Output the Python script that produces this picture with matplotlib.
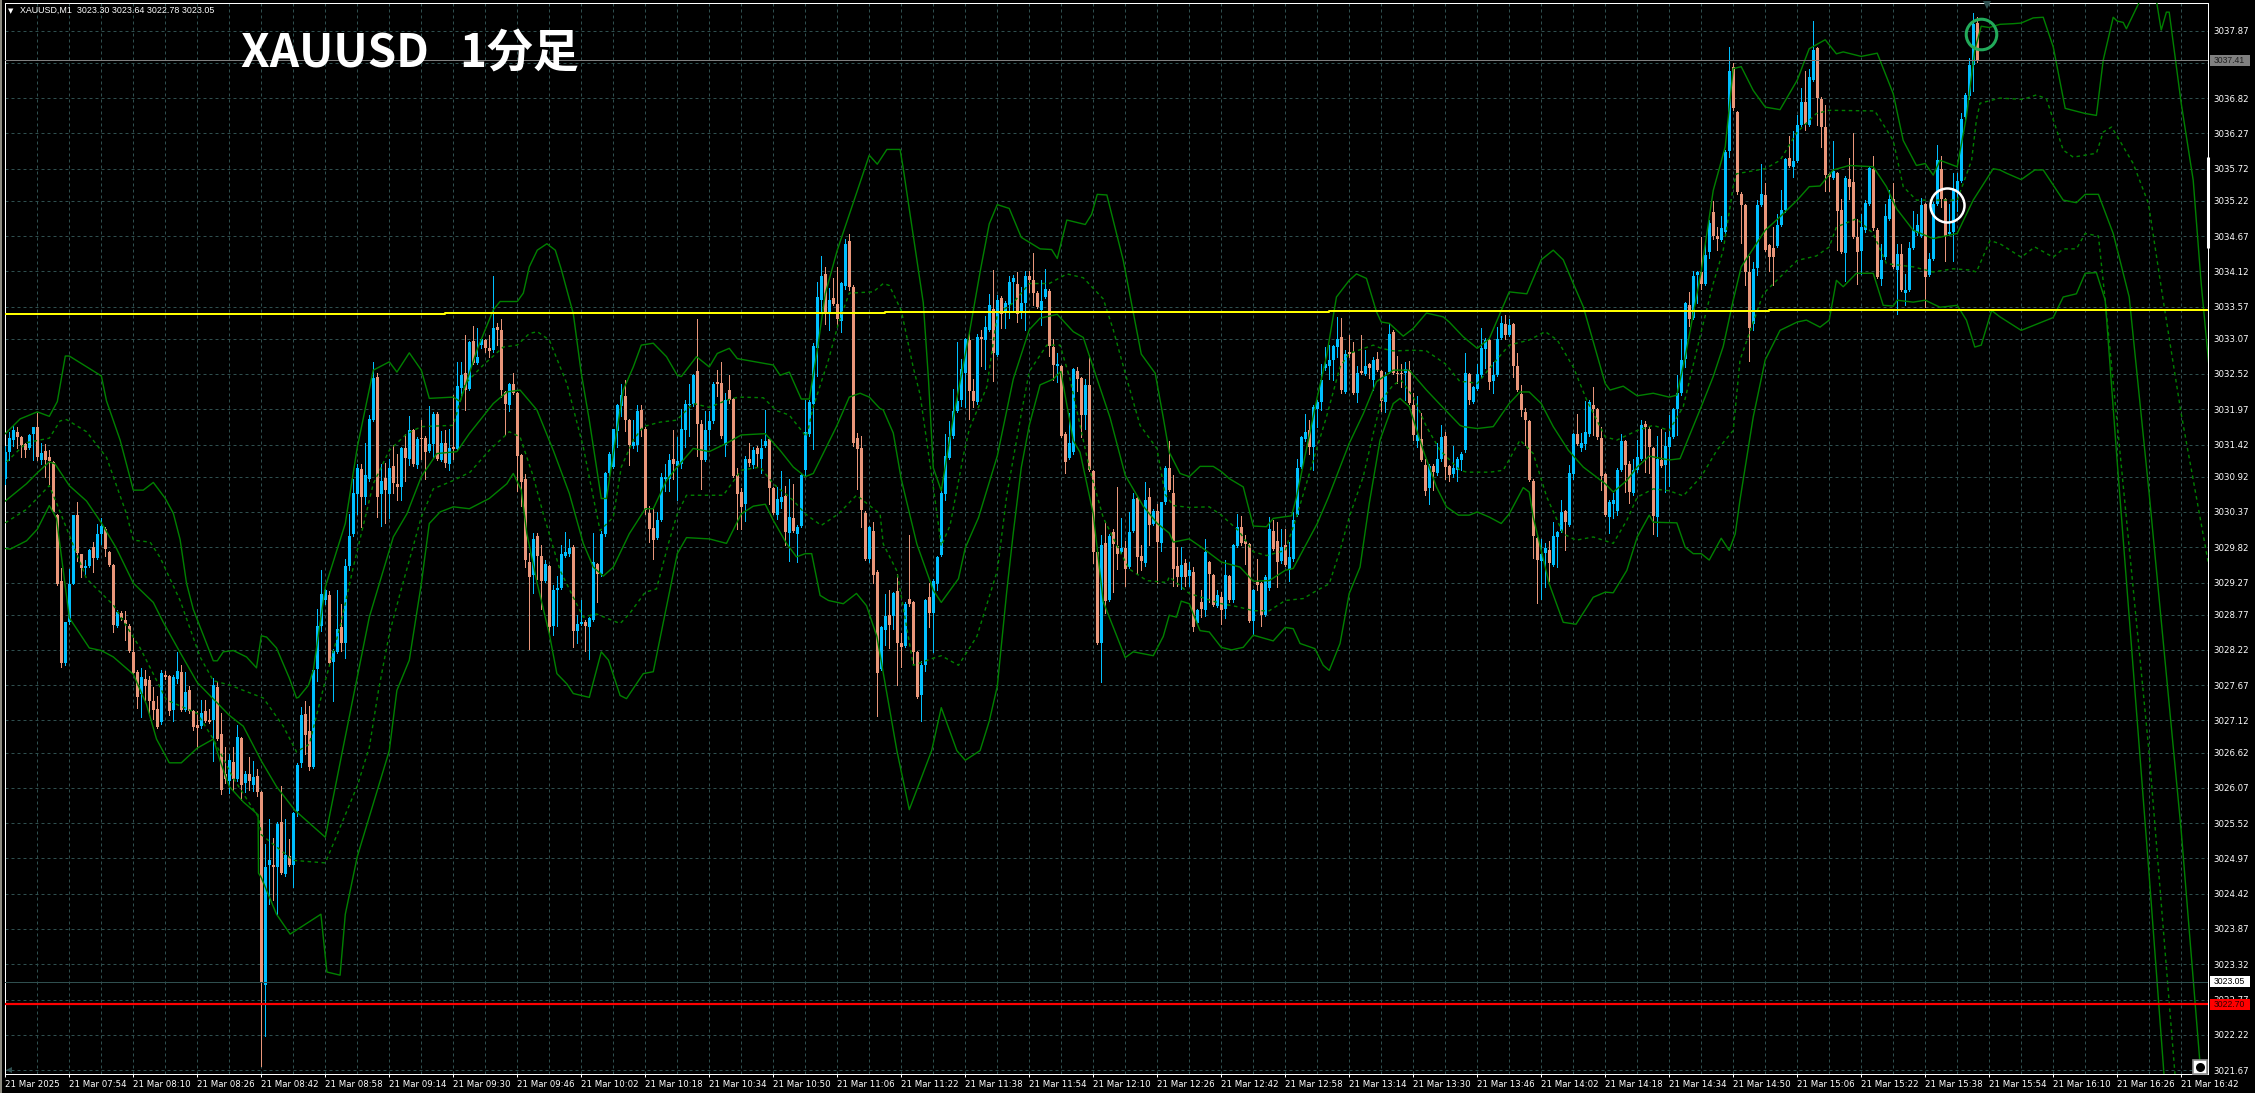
import numpy as np
import matplotlib
matplotlib.use("Agg")
import matplotlib.pyplot as plt
from matplotlib.patches import Rectangle

BASE = 3000.0

# candles, prices minus 3000, one row = 16 bars (one time label)
opens = [
30.89,31.30,31.49,31.62,31.54,31.43,31.37,31.59,31.69,31.18,31.32,31.22,31.15,30.33,29.29,28.01,
28.65,29.25,30.33,29.71,29.50,29.53,29.83,29.65,30.02,30.10,29.75,29.55,28.60,28.80,28.69,28.60,
28.19,27.88,27.53,27.77,27.75,27.42,27.30,27.09,27.83,27.81,27.29,27.77,27.88,27.29,27.60,27.26,
27.05,27.03,27.26,27.12,27.12,27.64,26.91,26.29,26.17,26.48,26.21,26.84,26.15,26.29,26.12,26.25,
26.00,23.00,24.86,24.87,24.83,25.53,24.72,25.01,24.86,25.71,26.45,27.22,26.95,26.40,27.92,28.59,
29.00,29.07,28.03,28.19,28.57,28.32,29.52,30.02,30.65,31.04,30.61,30.88,31.80,32.48,30.65,30.90,
30.65,31.08,30.80,30.76,31.37,31.20,31.64,31.10,31.51,31.53,31.32,31.43,31.90,31.18,31.44,31.11,
31.38,31.35,32.30,32.53,32.29,33.03,32.69,32.97,33.05,32.93,32.89,33.25,33.20,32.24,32.03,32.37,
32.22,31.25,30.88,29.59,29.38,29.99,29.68,29.30,29.52,28.59,29.15,29.19,29.69,29.71,29.83,28.51,
28.63,28.66,28.58,28.69,29.56,29.41,30.02,30.97,31.07,31.63,32.02,32.17,31.80,31.39,31.41,31.96,
31.67,30.35,30.12,29.97,30.25,30.88,30.89,31.19,31.08,31.12,31.64,32.03,32.06,32.56,31.74,31.18,
31.64,31.78,32.39,32.38,31.41,32.27,32.13,30.94,30.68,30.49,31.20,31.10,31.36,31.20,31.40,31.51,
30.74,30.33,30.53,30.62,30.04,30.27,30.03,30.15,31.02,31.58,32.06,32.92,33.68,34.08,33.49,33.71,
33.61,33.35,33.89,34.60,33.88,31.53,31.36,30.36,29.64,30.07,29.43,27.92,28.53,28.77,28.75,29.14,
28.33,28.28,29.02,28.96,28.19,27.52,27.98,29.04,28.80,29.25,29.70,30.65,31.21,31.55,31.95,32.11,
32.53,33.05,32.25,32.08,33.09,33.05,33.21,33.54,32.82,33.70,33.48,33.59,33.96,33.93,33.48,33.62,
34.05,33.99,33.79,33.52,33.72,33.82,32.94,32.65,32.64,31.59,31.21,31.31,32.57,32.46,31.88,32.35,
31.01,29.75,28.33,29.88,29.00,30.06,29.84,29.75,29.81,29.51,30.07,30.58,29.69,29.58,30.61,30.18,
30.39,29.89,30.53,31.06,30.67,29.53,29.36,29.58,29.37,29.44,28.64,28.96,28.84,29.59,29.39,28.91,
29.05,28.85,29.37,28.99,29.84,30.14,29.92,29.87,28.67,29.28,29.26,28.77,29.18,30.07,29.92,29.60,
29.85,29.47,29.63,30.33,31.07,31.50,31.64,31.38,31.97,32.08,32.62,32.64,32.74,32.94,33.09,32.24,
32.87,32.86,32.23,32.57,32.52,32.67,32.42,32.76,32.57,32.08,32.55,33.18,32.54,32.53,32.53,32.58,
32.03,31.48,31.51,31.10,30.74,31.08,30.97,31.19,31.56,31.08,30.96,31.02,31.18,31.33,32.52,32.09,
32.29,32.50,32.91,33.05,32.41,32.51,33.08,33.30,33.13,33.30,32.65,32.21,31.92,31.78,30.86,29.96,
29.60,29.73,29.77,29.55,29.98,30.07,30.38,30.17,30.96,31.59,31.37,31.43,31.58,32.03,31.97,31.52,
30.96,30.29,30.50,30.38,31.03,31.47,31.12,30.66,31.02,31.20,31.74,31.67,31.36,30.29,31.18,31.10,
31.38,31.54,31.98,32.22,32.76,33.59,33.39,34.06,34.11,33.92,34.42,35.04,34.67,34.61,34.73,35.99,
37.30,36.60,35.33,35.15,34.11,33.30,34.17,35.16,35.31,34.53,34.49,34.52,34.84,35.07,35.88,35.74,
35.84,36.40,36.76,36.40,37.10,37.60,36.81,36.37,35.64,35.58,35.65,35.07,34.41,35.56,35.51,34.65,
34.44,34.76,35.17,35.72,34.77,34.00,34.34,34.94,35.25,34.14,34.39,33.79,33.83,34.49,34.71,34.67,
35.17,34.06,34.32,35.17,35.72,35.24,34.70,34.74,35.36,35.53,36.52,36.85,37.33,37.99,
]
highs = [
31.39,31.62,31.72,31.69,31.56,31.45,31.59,31.70,31.91,31.45,31.43,31.34,31.16,30.34,29.50,28.65,
29.48,30.33,30.52,29.72,29.62,29.79,29.90,30.18,30.27,30.14,29.76,29.56,28.84,28.82,28.83,28.62,
28.42,27.90,27.94,27.90,27.82,27.64,27.50,27.91,27.89,27.83,27.83,28.18,27.98,27.88,27.66,27.28,
27.27,27.44,27.44,27.30,27.78,27.72,27.23,26.70,26.59,26.70,27.05,26.86,26.33,26.55,26.49,26.36,
26.02,25.20,25.58,25.29,25.53,26.10,25.58,25.28,25.70,26.45,27.33,27.43,27.34,27.92,28.86,29.46,
29.17,29.14,28.23,29.16,28.93,29.64,30.34,30.89,31.12,31.12,31.44,31.88,32.71,32.53,31.12,31.14,
31.20,31.42,31.28,31.38,31.58,31.86,31.66,31.54,31.81,31.55,32.02,31.93,31.92,31.63,31.64,31.67,
32.19,32.71,32.71,33.13,33.04,33.27,33.23,33.08,33.07,33.13,34.05,33.31,33.37,32.26,32.38,32.53,
32.24,31.27,30.96,29.73,30.04,30.04,29.85,29.62,29.54,29.23,29.37,29.85,30.05,29.95,29.85,28.76,
29.00,28.68,28.73,30.04,29.58,30.07,30.99,31.31,31.67,32.05,32.37,32.43,31.82,31.80,32.03,32.03,
31.69,30.47,30.42,30.37,30.97,31.11,31.28,31.65,31.54,31.97,32.11,32.36,32.52,33.37,31.81,31.94,
31.95,32.39,32.59,32.70,32.22,32.50,32.15,31.05,30.75,31.24,31.45,31.38,31.39,31.50,31.96,31.53,
30.76,30.76,31.01,30.78,30.89,30.81,30.17,30.96,32.11,32.11,33.00,33.96,34.36,34.18,33.86,34.02,
34.18,33.96,34.62,34.70,33.90,31.60,31.56,30.38,30.15,30.22,29.47,28.59,29.09,29.15,29.13,29.40,
28.48,28.96,30.01,28.98,28.21,28.04,29.01,29.27,29.32,29.69,30.76,31.59,31.79,32.29,33.02,32.75,
33.08,33.17,32.44,33.14,33.21,33.42,33.76,34.14,33.75,33.74,33.65,34.05,34.06,34.11,33.87,34.12,
34.12,34.41,33.81,33.99,34.16,33.84,33.07,32.85,32.66,31.61,31.91,32.62,32.63,32.48,32.44,32.81,
31.03,29.77,30.01,30.21,30.02,30.10,30.76,30.27,29.92,30.37,30.67,30.60,29.85,30.83,30.75,30.41,
30.49,30.52,31.09,31.47,30.94,29.82,29.82,29.64,29.59,29.51,28.86,29.15,29.95,29.61,29.41,29.15,
29.13,29.62,29.39,29.87,30.34,30.31,30.01,29.89,29.17,29.64,29.28,29.38,30.29,30.25,30.21,30.10,
30.10,29.90,30.37,31.19,31.56,31.89,31.80,32.03,32.11,32.68,32.94,32.97,32.97,33.41,33.40,32.90,
33.13,33.02,32.65,33.13,32.89,32.69,32.79,32.86,32.59,32.55,33.30,33.20,32.80,32.68,32.71,32.72,
32.22,32.17,31.91,31.19,31.11,31.11,31.44,31.72,31.62,31.10,31.39,31.23,31.30,32.84,32.54,32.33,
32.68,33.23,33.08,33.07,32.71,33.25,33.42,33.44,33.37,33.32,32.85,32.35,31.99,31.80,30.88,29.98,
29.95,29.89,29.91,30.22,30.08,30.55,30.40,31.10,31.60,31.89,31.60,32.10,32.12,32.31,31.99,31.70,
30.98,30.55,30.66,31.05,31.58,31.49,31.17,31.19,31.49,31.81,31.78,31.69,31.38,31.56,31.66,31.61,
31.88,31.99,32.50,33.06,33.64,33.80,34.12,34.13,34.65,34.56,34.92,35.21,34.81,34.99,36.01,37.62,
37.37,36.62,35.35,35.17,34.36,34.27,35.23,35.80,35.50,34.55,34.81,35.01,35.38,35.89,36.23,36.30,
36.55,36.97,37.25,37.28,38.02,37.62,36.83,36.71,35.66,36.15,35.67,35.24,35.60,35.88,36.27,34.94,
35.02,35.23,35.75,35.91,34.79,34.55,35.17,35.38,35.49,34.55,34.54,34.08,34.58,35.06,35.01,35.26,
35.19,34.40,35.20,36.09,35.91,35.26,35.17,35.65,35.65,36.58,36.90,37.45,38.14,38.09,
]
lows = [
30.81,31.18,31.39,31.37,31.22,31.22,31.35,31.18,31.18,31.12,30.91,30.81,30.37,29.23,27.96,27.99,
28.63,29.25,29.61,29.36,29.41,29.51,29.43,29.63,29.87,29.68,29.52,28.50,28.58,28.68,28.38,28.18,
27.84,27.32,27.18,27.44,27.20,27.15,27.00,27.07,27.77,27.20,27.11,27.70,27.27,27.27,27.24,26.97,
26.69,27.01,27.09,27.08,26.49,26.81,25.97,26.15,25.99,26.03,26.17,25.88,26.00,26.03,26.02,25.95,
21.73,22.20,24.26,24.32,24.10,24.72,24.70,24.85,24.52,25.63,26.40,26.60,26.35,26.38,27.74,28.52,
28.93,28.00,27.43,28.17,28.21,28.09,29.46,30.00,30.34,30.14,30.50,30.86,31.78,30.29,30.15,30.19,
30.28,30.66,30.56,30.56,30.86,31.10,31.09,31.05,31.20,30.89,31.30,31.22,31.18,31.16,31.07,31.02,
31.20,31.33,32.16,31.96,32.27,32.67,32.67,32.92,32.87,32.79,32.87,32.97,32.16,31.57,31.95,32.21,
30.70,30.46,29.51,28.23,29.10,29.33,28.86,29.28,28.47,28.45,28.59,29.17,29.67,29.69,28.26,28.33,
28.61,28.21,28.08,28.67,28.97,29.37,30.00,30.95,31.05,31.38,31.86,31.63,31.10,31.37,31.32,31.55,
30.34,29.90,29.64,29.95,30.23,30.70,30.69,30.89,30.55,31.05,31.38,31.55,32.02,31.24,30.73,31.16,
31.41,31.76,32.18,31.53,31.24,32.07,30.91,30.11,30.11,30.23,31.09,31.05,31.07,30.97,31.38,30.50,
30.34,30.26,30.43,29.85,29.60,30.06,29.59,30.13,30.93,31.56,31.35,32.49,33.50,33.30,33.20,33.59,
33.27,33.18,33.85,33.83,31.40,30.73,30.14,29.62,29.59,29.26,27.19,27.90,28.29,28.25,28.55,27.68,
27.96,28.26,28.91,28.00,27.47,27.11,27.89,28.58,28.18,29.15,29.68,30.55,31.19,31.53,31.93,32.02,
32.00,31.82,32.01,32.06,32.65,32.60,33.19,32.41,32.80,33.23,33.24,33.40,33.52,33.33,33.40,33.20,
33.80,33.60,33.55,33.29,33.70,32.80,32.42,32.39,31.54,30.97,31.19,31.28,32.25,31.54,31.67,31.01,
29.58,28.31,27.72,28.79,28.98,29.12,29.48,29.73,29.22,29.49,30.05,29.40,29.46,29.52,29.86,30.16,
29.27,29.76,30.50,30.69,29.22,29.21,29.17,29.21,29.22,28.52,28.62,28.73,28.75,28.96,28.90,28.89,
28.62,28.71,28.97,28.97,29.82,29.86,29.56,28.65,28.47,29.15,28.59,28.75,29.16,29.78,29.20,29.58,
29.52,29.30,29.61,30.31,31.05,31.48,31.27,31.03,31.70,31.96,32.58,32.44,32.42,32.78,32.22,32.22,
32.79,32.21,32.09,32.52,32.50,32.45,32.27,32.56,31.95,31.92,32.53,32.52,32.38,32.31,32.11,32.05,
31.49,31.38,31.16,30.63,30.50,30.71,30.95,31.17,30.89,30.86,30.91,30.86,31.02,31.31,32.05,32.07,
32.27,32.48,32.62,32.29,32.23,32.49,33.06,33.07,33.11,32.48,32.25,31.87,31.42,30.85,29.65,28.95,
29.01,29.20,29.30,29.53,29.51,30.05,29.77,30.15,30.88,31.41,31.32,31.35,31.56,31.57,31.50,30.71,
30.30,30.04,30.27,30.32,31.01,30.68,30.51,30.64,31.00,31.18,30.99,30.97,30.02,29.99,31.07,30.68,
30.77,31.52,31.57,32.20,32.63,33.27,33.37,33.62,33.85,33.90,34.33,34.63,34.46,34.59,34.71,35.90,
36.64,35.33,34.56,33.90,32.73,33.21,34.06,35.14,34.43,34.13,33.90,34.50,34.82,35.05,35.74,35.59,
35.82,36.38,36.32,36.38,37.08,36.40,36.06,35.37,35.37,35.56,34.46,34.40,33.97,35.24,34.64,33.93,
34.08,34.74,35.15,34.77,34.01,33.90,34.32,34.92,34.17,33.46,33.81,33.59,33.81,34.47,34.69,34.65,
33.57,34.04,34.30,35.15,35.12,34.28,34.68,34.28,35.06,35.51,36.50,36.80,36.93,37.39,
]
closes = [
31.30,31.52,31.64,31.54,31.42,31.34,31.57,31.69,31.22,31.29,31.18,31.16,30.37,29.25,28.01,28.65,
29.25,30.33,29.73,29.50,29.53,29.77,29.65,30.02,30.15,29.80,29.54,28.61,28.81,28.72,28.63,28.20,
27.86,27.49,27.80,27.65,27.42,27.29,27.02,27.86,27.79,27.26,27.80,27.89,27.29,27.57,27.26,27.02,
27.01,27.23,27.11,27.10,27.67,26.83,26.04,26.21,26.51,26.21,26.86,26.12,26.28,26.18,26.24,26.00,
23.05,24.84,24.94,24.83,25.51,24.74,25.02,24.87,25.68,26.43,27.21,26.90,26.40,27.90,28.59,29.09,
29.15,28.02,28.21,28.54,28.32,29.52,29.99,30.67,31.05,30.61,30.94,31.82,32.45,30.61,30.86,30.71,
31.05,30.82,30.76,31.36,31.21,31.64,31.11,31.50,31.50,31.31,31.43,31.89,31.20,31.44,31.13,31.37,
31.35,32.33,32.51,32.27,33.02,32.69,32.78,33.06,32.92,32.88,33.23,33.20,32.27,32.05,32.37,32.23,
31.24,30.84,29.62,29.36,29.95,29.69,29.30,29.56,28.58,29.15,29.19,29.72,29.75,29.81,28.52,28.62,
28.65,28.59,28.71,29.59,29.41,30.02,30.98,31.27,31.66,32.03,32.19,31.80,31.41,31.46,31.94,31.67,
30.40,30.11,29.93,30.24,30.91,30.92,31.18,31.11,31.16,31.67,32.06,32.06,32.50,31.74,31.18,31.64,
31.78,32.37,32.36,31.55,32.11,32.12,30.93,30.65,30.45,31.19,31.14,31.34,31.27,31.36,31.48,30.74,
30.36,30.57,30.60,30.05,30.29,30.08,30.14,30.94,31.61,32.09,32.95,33.72,34.05,33.49,33.68,33.61,
33.38,33.94,34.55,33.87,31.45,31.35,30.40,29.64,30.13,29.38,27.86,28.57,28.75,28.61,29.11,28.33,
28.27,28.94,28.93,28.18,27.49,27.98,28.99,28.79,29.30,29.67,30.67,31.24,31.54,31.95,32.10,32.60,
33.06,32.25,32.10,33.09,33.07,33.26,33.60,32.84,33.68,33.45,33.63,33.96,34.01,33.46,33.63,34.04,
33.98,33.79,33.57,33.66,33.84,32.96,32.66,32.68,31.56,31.15,31.44,32.60,32.44,31.88,32.35,31.03,
29.75,28.33,29.85,28.98,30.00,29.87,29.72,29.81,29.48,30.06,30.57,29.67,29.60,30.55,30.16,30.39,
29.90,30.52,31.05,30.71,29.48,29.35,29.55,29.35,29.46,28.58,28.84,28.85,29.75,29.40,28.92,29.07,
28.84,29.38,28.99,29.85,30.14,29.88,29.87,28.67,29.15,29.23,28.77,29.36,30.10,29.80,29.59,29.82,
29.54,29.66,30.24,31.06,31.54,31.61,31.38,32.00,32.09,32.42,32.67,32.74,32.95,33.06,32.27,32.83,
32.83,32.23,32.53,32.54,32.65,32.62,32.74,32.58,32.10,32.49,33.15,32.54,32.52,32.52,32.60,32.07,
31.57,31.57,31.18,30.70,31.09,30.99,31.19,31.54,31.07,30.94,31.06,31.19,31.28,32.53,32.11,32.31,
32.52,32.92,33.05,32.39,32.50,33.06,33.32,33.12,33.28,32.64,32.27,31.96,31.80,30.87,29.99,29.62,
29.72,29.81,29.57,30.00,30.05,30.37,30.21,30.97,31.58,31.43,31.45,31.61,32.09,31.98,31.54,30.93,
30.32,30.53,30.56,31.02,31.47,31.10,30.68,31.03,31.22,31.72,31.70,31.38,30.31,31.19,31.09,31.39,
31.54,31.97,32.23,32.74,33.62,33.38,34.05,34.11,33.92,34.37,34.87,34.67,34.62,34.79,35.98,37.25,
36.66,35.35,35.16,34.11,33.23,34.16,35.15,35.33,34.45,34.34,34.34,34.84,35.07,35.87,35.76,35.84,
36.40,36.76,36.41,37.15,37.57,36.82,36.37,35.62,35.59,35.68,35.06,34.42,35.58,35.43,34.66,34.42,
34.81,35.18,35.73,34.79,34.03,34.30,34.99,35.24,34.19,34.39,33.83,33.83,34.49,34.76,34.84,35.15,
34.03,34.32,35.17,35.85,35.24,34.67,34.74,35.38,35.53,36.49,36.87,37.33,37.97,37.41,
]

# bollinger lines, bar number and price-3000 at the bends of each curve
upper_bars = [
0,3.7,8,11,13,15,16,24,25.3,28.7,32,34.5,37,40,42,43.7,45.3,47,49.5,52,53,54.5,57,60.3,62.8,64,65.3,67.8,71,72.8,
73.3,75.8,77,80,85,88,92,96,97.9,101,104,106,112,113.7,117.9,122,123.7,128,129.5,131,133,135.4,137.5,139,142,144,
146,149,150.3,152,154.5,157,159,162,165.3,168,169,172.8,176,178,181,183,192,193.7,196,199,201,203,205,208,
216,218,220.4,223.7,224.5,229.5,230.8,232,234,237,241,243.7,246,248,251,254,258.7,261.6,263,265.4,270,271.6,273,275.4,279.5,284,287.5,289.5,291,
293.7,296,298.7,302,304,306,309.5,312,315.3,317,321.6,322.8,328,330.3,332.8,336,337.8,340.3,342.8,344,346,349.5,352,355.3,359.5,
361,364.5,368,371,376,380.4,384,387,389.5,392,394.5,400,401.2,404.5,408,412,416,417.9,420,424,
427,430,432,434,437,440,443.7,448,451,455,457.8,459.5,464,468,472,474.5,477.8,480,482,483.7,488,490.3,492.4,494,
496,498.7,502,504,507,509.5,512,515,520,522.8,524.5,527,528,529.5,530.3,533.7,535.8,537.8,539,540.3,541,544,547,549,551,
]
upper_vals = [
31.59,31.82,31.93,31.86,32.09,32.80,32.80,32.49,32.10,31.49,30.71,30.71,30.83,30.58,30.35,29.94,29.26,28.85,28.45,28.05,28.05,28.19,28.21,28.11,27.94,28.44,28.42,28.25,27.78,27.47,
27.48,27.67,27.90,29.20,30.19,31.38,32.58,32.71,32.55,32.85,32.58,32.14,32.16,32.09,32.89,33.52,33.65,33.65,33.78,34.19,34.45,34.55,34.45,34.15,33.46,32.53,
31.80,30.58,30.58,31.28,32.27,32.63,32.97,33.00,32.79,32.50,32.48,32.79,32.63,32.84,32.92,32.76,32.66,32.50,32.55,32.13,32.13,32.89,33.77,34.45,
35.93,35.79,36.02,36.02,35.72,33.63,32.44,31.06,30.70,31.84,33.15,34.11,34.86,35.16,35.10,34.65,34.47,34.46,34.32,34.92,34.85,35.01,35.32,35.31,34.29,32.83,32.53,31.84,31.30,
30.97,30.92,31.08,31.08,31.00,30.89,30.76,30.15,30.14,30.27,30.31,30.60,32.16,32.79,33.72,33.98,34.08,34.01,33.49,33.33,33.31,33.11,33.23,33.47,33.41,
33.33,33.10,32.92,33.07,33.80,33.77,34.30,34.45,34.30,33.93,33.57,32.37,32.27,32.33,32.18,32.22,32.16,32.19,32.79,34.12,
35.38,36.06,37.28,37.31,36.94,36.68,36.64,37.10,37.59,37.73,37.51,37.54,37.47,37.52,36.89,36.16,35.77,35.80,35.62,35.85,35.75,36.53,37.57,37.94,
37.92,37.97,37.98,37.99,38.07,38.08,37.62,36.66,36.58,36.55,37.41,38.08,38.02,38.00,37.90,38.34,38.50,38.34,37.88,38.16,38.16,36.74,35.54,33.93,32.60,
]
upper_dot_bars = [
0.3,5.3,11,13.7,15.3,20.3,25.3,30.3,32,36.2,38.7,43.7,48.7,52,56.2,60.3,64.5,69.5,72.8,
76,80,83.7,87,92,96,100.4,104,112,115,119.5,124.5,128,131,133,136,140.4,144.5,
147,148.7,152,154,157,159.5,163.7,167.8,172,176,180.3,183.3,189.5,192.8,196,200.3,202,205.8,208.3,211,217,
219.5,221,224,227,228.7,232,234,236.2,239.5,241,245.4,248,252,256,261,265.4,269.5,274.5,277,280.4,283.7,287.9,
290,292,296,301,304,308.3,312,315.3,320,322.8,328,330.3,333.7,336,342,344,347,352,355.3,360,363.7,
365.4,368,372,376,381,385,388,392,395.4,400,402.9,408,412,416,419.5,424,427,429.5,
432,432.8,440,443.7,448,452.8,456,467.4,472,474.5,477.8,482,488,491.6,492.8,493.7,498.7,504.5,507.8,510.3,
514.5,517,522.8,524.5,526.6,532,535.8,539.5,544,551,
]
upper_dot_vals = [
31.15,31.45,31.52,31.79,31.81,31.62,31.22,30.34,29.93,29.90,29.66,28.99,28.11,27.74,27.67,27.57,27.47,27.03,26.63,
26.75,27.74,28.58,29.51,30.81,31.33,31.59,31.70,31.72,32.37,32.66,32.94,32.97,33.15,33.18,33.05,32.37,31.38,
30.60,30.08,30.29,31.07,31.49,31.70,31.77,31.80,32.06,32.00,32.11,32.16,32.15,31.95,31.88,31.54,32.01,32.74,33.31,33.78,33.80,
33.93,33.90,33.51,32.62,32.20,30.76,29.84,30.16,31.24,31.66,32.32,33.45,33.63,33.93,33.93,34.08,34.02,33.69,33.21,32.44,31.72,31.36,
30.64,30.47,30.44,30.45,30.32,30.08,29.75,29.69,29.77,30.29,31.38,31.85,32.63,32.84,32.97,32.92,32.88,32.89,32.88,32.68,32.40,
32.40,32.37,32.68,32.97,33.05,33.18,33.05,32.63,32.11,31.54,31.49,31.64,31.72,31.64,32.01,33.18,33.93,34.45,
35.44,35.64,35.72,35.85,36.29,36.58,36.63,36.62,36.16,35.44,35.23,35.23,35.23,35.85,36.48,36.74,36.82,36.80,36.87,36.81,
36.01,35.90,35.96,36.29,36.37,35.80,35.18,33.67,31.90,29.50,
]
mid_bars = [
0,5.3,8,11,12.4,16,20.3,24,27.8,32,37,39.5,43.7,48,56,59.5,64,67.8,72.4,
80,84.3,88,91,96,97,100.4,104,107.9,112.9,116,122,125.4,128.7,132.9,137,141,144.5,
147,149.5,152,156,160,162,165.3,168,172,176,180.3,184,190,193.7,197,200,202,207.8,211,213.7,216,218.7,
219.5,222,224,227.9,232,234,238.3,240,243.3,248,252,256,258.7,263,267,269.5,272,276.2,280,284.5,288,291,
292,296,299.5,304,308.7,312,316,320,322,328,330.8,333.7,336,339.5,342.8,347,351,355.3,360,363.7,
364.5,368,372,376,378.7,381,384,387,390.8,394.5,400,402,405.4,408,411,416,418.7,424,
427,429.5,432,434,440,443.7,448,451,453.7,457,461,467,470.3,472.8,477,482,488,492,497,498.7,
500.3,504,507.4,509.5,514.5,517.8,520,523.3,527,531,536,544,551,
]
mid_vals = [
30.54,30.81,30.98,31.15,31.12,30.78,30.54,30.20,29.80,29.26,28.96,28.65,28.18,27.71,27.20,27.03,26.49,26.09,25.72,
25.30,26.65,27.80,28.73,29.77,29.98,30.34,30.92,31.28,31.31,31.59,32.06,32.24,32.27,31.96,31.33,30.66,29.88,
29.51,29.37,29.51,30.03,30.42,30.42,30.86,31.07,31.36,31.31,31.44,31.57,31.59,31.33,31.07,30.92,30.97,31.70,32.16,32.22,32.16,31.98,
31.96,31.60,30.88,29.87,29.15,28.96,29.33,29.81,30.28,31.24,32.44,33.21,33.39,33.45,33.18,33.09,32.62,31.84,30.94,30.46,30.19,30.04,
29.90,29.95,29.80,29.59,29.51,29.29,29.30,29.46,29.49,30.19,30.60,31.07,31.44,31.90,32.40,32.58,32.58,32.27,31.96,31.72,
31.70,31.67,31.70,32.06,32.24,32.24,32.06,31.70,31.33,31.07,30.81,30.68,30.86,31.07,31.24,31.18,31.20,32.01,
32.48,32.95,33.67,34.19,34.76,34.97,35.23,35.44,35.45,35.70,35.77,35.75,35.44,35.10,34.76,34.63,34.71,35.23,35.72,35.70,
35.65,35.55,35.70,35.70,35.23,35.19,35.32,35.32,34.71,33.72,30.65,25.40,20.00,
]
lower_dot_bars = [
0,5.3,11,12.8,20.3,27,33.7,40.3,48,52,57,63.3,64,72,
80,88,91,93.3,96,98.7,104,107,112,116.2,121,126,128.7,132,134.5,138.7,142,144.5,
147.8,153.7,156,160,162.8,165.8,168,170.3,179.5,184,188.7,192,197,200,204,208.3,212.8,218.7,
219.5,222.9,227,231,234,238.3,242.9,248,250.4,254,256,260.4,263.7,266.2,271,274.5,278.7,281,285.4,290.4,
291,296,301,304,308.3,312,316,320,324.5,328,331,333.7,336,339.5,342,344,347,349,352,355.3,358.7,363.7,
365.4,371.2,374.5,378.7,382,385.4,389.5,392.7,397,402,405.4,408,412,416,419.5,424,427.9,
432,433.7,439.5,443.7,448,452.8,456,457.8,462.8,467,470.3,477,482,487,491.2,492.8,496.2,498.7,
504,507.4,512,514.5,517.8,520,523.3,525,528,536,544,551,
]
lower_dot_vals = [
30.20,30.41,30.78,30.51,29.33,28.92,28.25,27.44,27.23,26.83,26.22,25.61,25.34,24.94,
24.90,26.10,26.70,27.59,28.47,29.10,30.29,30.73,30.86,30.99,31.33,31.62,31.54,30.92,30.34,29.46,29.04,28.73,
28.78,28.63,28.78,29.12,29.17,29.88,30.34,30.63,30.63,31.02,31.07,30.81,30.55,30.34,30.16,30.34,30.63,30.34,
29.87,29.45,27.98,28.07,28.13,27.98,28.43,29.45,30.64,31.90,32.56,32.97,32.97,32.44,31.06,30.28,29.75,29.48,29.30,29.27,
29.36,29.10,29.00,28.94,28.89,28.83,28.83,28.99,29.02,29.15,29.25,29.77,30.29,30.92,31.59,32.11,32.35,32.42,32.16,31.70,31.33,31.02,
30.99,30.99,31.02,31.49,31.28,30.60,30.03,29.93,29.98,29.88,30.24,30.60,30.73,30.70,30.62,30.92,31.33,
31.64,32.74,33.77,34.03,34.29,34.36,34.50,34.81,34.94,34.71,34.24,34.19,34.11,34.16,34.14,34.11,34.60,34.55,
34.34,34.50,34.34,34.47,34.47,34.71,34.67,33.67,31.75,26.60,20.40,17.00,
]
lower_bars = [
0,1.2,5.3,8,11,12.8,16,21,24,27,32,35.3,37.8,41,44,48,52,53.7,56,59.5,63.2,63.3,64,67.8,71.2,73.7,
78.9,80.4,83.7,85,88,96,97.9,101,104,106,108.7,112,116,121,125.4,127,129,130.4,133,136,137.9,140.4,142,146,
149,150.8,153.7,155.3,159.5,162,165.8,168,170.3,176,180.3,184,187,190,192,195.3,197.8,200,201.6,203.7,205.8,209.5,212.8,215.3,217.9,
222.9,226,231.6,234,237.9,240,243.7,246,248,250.4,252,254,256,258.7,262,263.9,267,268.7,272,274.5,280,282,287,289.5,
291,292.8,294,296,297,298.7,301,304,306.6,309.5,312,317,320,322,323.7,327.4,329.5,331,333.7,336,338.7,341,343.7,347,348.7,351,354.5,357.8,360.3,363.3,
366,368,371,374,376,379.5,381,382,384,386,389.5,392.7,397,400,402,405.4,408,411,412,417.9,420,422,424,426,429,431,432.5,
433.7,437,440,443.7,448,450.3,453.7,456,457.8,459.5,462.8,467,469.5,472,473,477,480,483.7,488,490.3,492.4,494,496.6,498.7,
504,512,514.5,517.8,520,522.8,525,528,536,544,551,
]
lower_vals = [
29.80,29.79,29.92,30.10,30.47,30.27,28.72,28.25,28.21,28.11,27.84,27.37,26.83,26.46,26.46,26.69,26.83,26.49,26.09,25.85,25.65,24.74,24.67,24.10,23.79,23.89,
24.10,23.20,23.15,24.10,25.00,26.65,27.59,28.06,29.25,30.19,30.37,30.45,30.42,30.58,30.81,30.97,30.71,30.03,29.25,28.47,27.85,27.69,27.54,27.48,
28.19,28.06,27.51,27.46,27.85,27.88,29.04,29.72,29.97,29.95,29.88,30.34,30.46,30.49,30.24,29.88,29.67,29.72,29.72,29.07,28.99,28.94,29.10,28.91,28.43,
26.65,25.73,26.65,27.32,26.65,26.50,26.65,27.11,27.65,29.15,30.04,31.06,31.72,32.35,32.44,32.56,31.48,31.30,30.34,28.97,28.10,28.19,28.13,28.43,
28.76,28.73,28.98,28.94,28.78,28.52,28.50,28.26,28.22,28.26,28.45,28.36,28.57,28.55,28.32,28.24,27.98,27.90,28.32,29.10,29.51,30.50,31.49,32.06,32.14,32.01,31.33,30.76,30.45,30.32,
30.32,30.37,30.29,30.19,30.34,30.75,30.68,30.29,29.77,29.25,28.65,28.62,29.04,29.12,29.11,29.46,29.98,30.32,30.21,30.20,29.82,29.72,29.72,29.62,29.96,29.77,30.03,
30.56,31.85,32.74,33.20,33.33,33.36,33.25,33.36,33.98,33.88,34.09,34.09,33.59,33.58,33.67,33.64,33.67,33.56,33.59,33.36,32.94,32.97,33.51,33.41,
33.20,33.40,33.72,33.77,34.09,34.10,33.67,31.15,24.70,18.00,14.00,
]

y_labels = ["3037.87","3037.37","3036.82","3036.27","3035.72","3035.22","3034.67","3034.12",
            "3033.57","3033.07","3032.52","3031.97","3031.42","3030.92","3030.37","3029.82",
            "3029.27","3028.77","3028.22","3027.67","3027.12","3026.62","3026.07","3025.52",
            "3024.97","3024.42","3023.87","3023.32","3022.77","3022.22","3021.67"]
x_labels = ["21 Mar 2025","21 Mar 07:54","21 Mar 08:10","21 Mar 08:26","21 Mar 08:42","21 Mar 08:58",
            "21 Mar 09:14","21 Mar 09:30","21 Mar 09:46","21 Mar 10:02","21 Mar 10:18","21 Mar 10:34",
            "21 Mar 10:50","21 Mar 11:06","21 Mar 11:22","21 Mar 11:38","21 Mar 11:54","21 Mar 12:10",
            "21 Mar 12:26","21 Mar 12:42","21 Mar 12:58","21 Mar 13:14","21 Mar 13:30","21 Mar 13:46",
            "21 Mar 14:02","21 Mar 14:18","21 Mar 14:34","21 Mar 14:50","21 Mar 15:06","21 Mar 15:22",
            "21 Mar 15:38","21 Mar 15:54","21 Mar 16:10","21 Mar 16:26","21 Mar 16:42"]

# horizontal levels
level_bid = 3023.05
level_red = 3022.70
level_gray = 3037.41
# the yellow trend line moves one pixel up in steps
yellow_bars = [0, 110, 220, 331, 441, 551]
yellow_vals = [3033.46, 3033.47, 3033.49, 3033.50, 3033.52, 3033.52]

BLUE = "#00bfff"
SALMON = "#e9967a"
GREEN = "#008000"
SLATE = "#2f4f4f"
PX = 0.72  # one pixel in points at dpi 100
FS = 6.2

W, H = 2255, 1093
L_PX, R_PX, T_PX, B_PX = 5.0, 2208.0, 2.5, 1074.0

o = BASE + np.array(opens)
h = BASE + np.array(highs)
l = BASE + np.array(lows)
c = BASE + np.array(closes)
bars = np.arange(len(c))

fig = plt.figure(figsize=(W / 100, H / 100), dpi=100, facecolor="black")
ax = fig.add_axes([L_PX / W, 1 - B_PX / H, (R_PX - L_PX) / W, (B_PX - T_PX) / H], facecolor="black")
ax.set_xlim(-0.08, 550.7)
ax.set_ylim(3021.61, 3038.31)

plt.rcParams["font.family"] = ["Liberation Sans", "DejaVu Sans"]

# grid
ax.set_axisbelow(True)
ax.set_yticks([float(v) for v in y_labels])
ax.set_yticklabels(y_labels)
ax.set_xticks(np.arange(0, 552, 16))
ax.set_xticklabels(x_labels, ha="left")
ax.set_xticks(np.arange(0, 552, 8), minor=True)
ax.grid(True, which="both", color=SLATE, linewidth=PX, linestyle=(0, (3, 3)))
ax.yaxis.tick_right()
ax.tick_params(axis="y", length=0, pad=4.2, labelsize=FS, labelcolor="white")
ax.tick_params(axis="x", which="major", length=3 * PX, width=PX, color="white", pad=2.2,
               labelsize=FS, labelcolor="white")
ax.tick_params(axis="x", which="minor", length=0)
for s in ax.spines.values():
    s.set_color("white")
    s.set_linewidth(PX)

# candles
up = c >= o
wick_colors = np.where(up, BLUE, SALMON)
ax.vlines(bars, l, h, colors=wick_colors, linewidth=PX, zorder=3, antialiased=False)
body_bottom = np.minimum(o, c)
body_h = np.maximum(np.abs(c - o), 0.02)
ax.bar(bars, body_h, bottom=body_bottom, width=0.75, color=wick_colors, linewidth=0, zorder=3,
       antialiased=False)

# bands
for xs, vals, style in [(upper_bars, upper_vals, "-"), (mid_bars, mid_vals, "-"), (lower_bars, lower_vals, "-"),
                        (upper_dot_bars, upper_dot_vals, (0, (2.5, 2.5))),
                        (lower_dot_bars, lower_dot_vals, (0, (2.5, 2.5)))]:
    ax.plot(xs, BASE + np.array(vals), color=GREEN, linewidth=1.4 * PX, linestyle=style, zorder=4)

# levels
ax.axhline(level_gray, color="#808080", linewidth=PX, zorder=5)
ax.axhline(level_bid, color=SLATE, linewidth=PX, zorder=5)
ax.axhline(level_red, color="#ff0000", linewidth=2.2 * PX, zorder=5)
ax.step(yellow_bars, yellow_vals, where="post", color="#ffff00", linewidth=2 * PX, zorder=5)

# circles put by hand on the chart
ax.plot([494], [3037.82], "o", ms=22, mfc="none", mec="#22aa5a", mew=2.2, zorder=6)
ax.plot([485.4], [3035.15], "o", ms=24.5, mfc="none", mec="white", mew=1.8, zorder=6)

# right scale: price tags and the white scale marker
ytrans = ax.get_yaxis_transform()
for val, txt, bg, fg in [(level_gray, "3037.41", "#808080", "#202020"),
                         (level_bid, "3023.05", "white", "black"),
                         (level_red, "3022.70", "#ff0000", "#300000")]:
    ax.add_patch(Rectangle((1.0009, val - 0.085), 0.01816, 0.17, transform=ytrans, facecolor=bg, edgecolor="none",
                           clip_on=False, zorder=9))
    ax.text(1.00272, val, txt, transform=ytrans, ha="left", va="center", fontsize=FS, color=fg, zorder=10)
ax.plot([1, 1], [3034.48, 3035.90], transform=ytrans, color="white", linewidth=2.2, clip_on=False, zorder=9,
        solid_capstyle="butt")

# little chart markers
ax.plot([495.4], [3038.27], "v", ms=6, color=SLATE, mew=0, clip_on=False, zorder=7)
ax.plot([1.0], [3021.68], "<", ms=4, color=SLATE, mew=0, clip_on=False, zorder=7)
ax.plot([548.8], [3021.72], "s", ms=10.5, mfc="white", mec="#8c8c8c", mew=1.2, clip_on=False, zorder=9)
ax.plot([548.8], [3021.72], "o", ms=6.5, color="black", mew=0, clip_on=False, zorder=10)

# header and the big title
fig.text(8 / W, 1 - 10.7 / H, "\u25bc", color="white", fontsize=5, family="DejaVu Sans", va="center")
fig.text(20 / W, 1 - 10.7 / H, "XAUUSD,M1  3023.30 3023.64 3022.78 3023.05", color="white",
         fontsize=6.4, va="center")
fig.text(241 / W, 1 - 67 / H, "XAUUSD   1\u5206\u8db3", color="white", fontsize=33, fontweight="bold",
         family=["Noto Sans CJK JP", "DejaVu Sans"], va="baseline", zorder=20)

# gray strip of the window edge
fig.add_artist(Rectangle((0, 0), 2 / W, 1, transform=fig.transFigure, color="#8c8a80", linewidth=0))

fig.savefig("out.png", dpi=100, facecolor="black")
